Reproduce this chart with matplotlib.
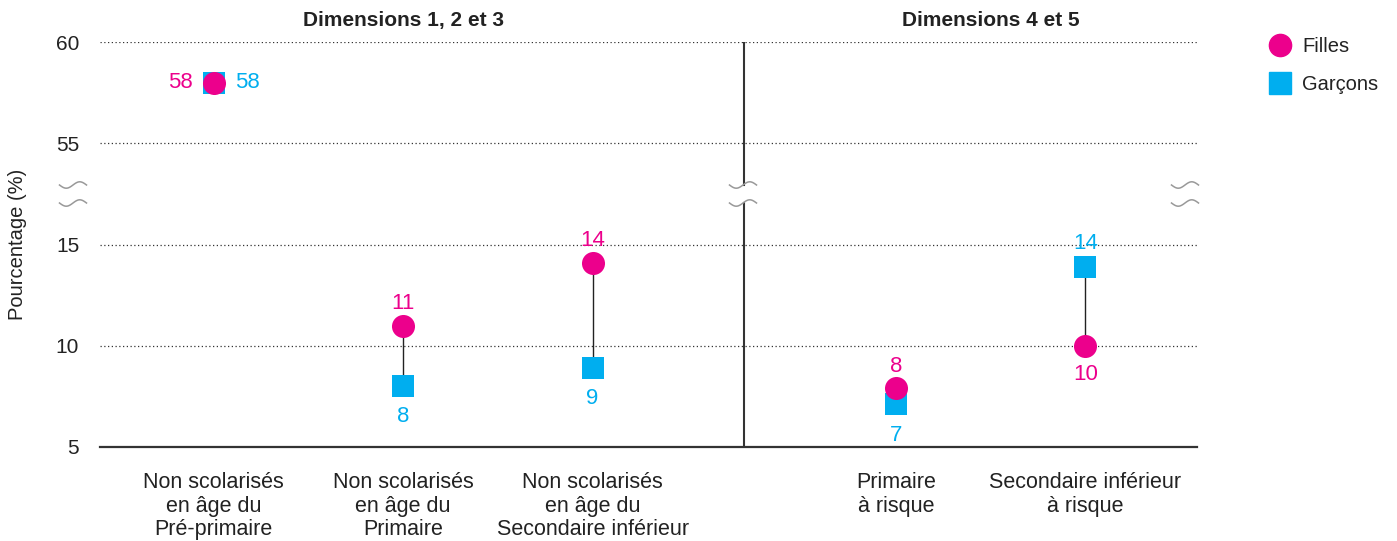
import numpy as np
import matplotlib
matplotlib.use('Agg')
import matplotlib.pyplot as plt
from matplotlib.lines import Line2D

plt.rcParams['font.family'] = ['Liberation Sans', 'DejaVu Sans']

# data
categories = ['Non scolarisés\nen âge du\nPré-primaire',
              'Non scolarisés\nen âge du\nPrimaire',
              'Non scolarisés\nen âge du\nSecondaire inférieur',
              'Primaire\nà risque',
              'Secondaire inférieur\nà risque']
filles = [58.0, 11.0, 14.1, 7.9, 10.0]
garcons = [58.0, 8.0, 8.9, 7.1, 13.9]
groups = ['Dimensions 1, 2 et 3', 'Dimensions 4 et 5']
yticks = [5, 10, 15, 55, 60]

pink = '#EC008C'
cyan = '#00AEEF'
txt = '#222222'

# broken axis: 15-55 squeezed into one tick interval
def fwd(v):
    v = np.asarray(v, dtype=float)
    return np.where(v <= 15, v, np.where(v >= 55, v - 35, 15 + (v - 15) / 8))

def inv(t):
    t = np.asarray(t, dtype=float)
    return np.where(t <= 15, t, np.where(t >= 20, t + 35, 15 + (t - 15) * 8))

x = np.array([0, 1, 2, 3.6, 4.6])
divider = 2.8

fig = plt.figure(figsize=(13.97, 5.41), dpi=100)
ax = fig.add_axes([100/1397, 1 - 447/541, 1097/1397, 405/541])
ax.set_yscale('function', functions=(fwd, inv))
ax.set_ylim(5, 60)
ax.set_xlim(-0.6, 5.19)

for s in ['top', 'right', 'left']:
    ax.spines[s].set_visible(False)
ax.spines['bottom'].set_color('#333333')
ax.spines['bottom'].set_linewidth(1.6)

ax.set_yticks(yticks)
ax.set_yticklabels([str(t) for t in yticks])
ax.yaxis.set_minor_locator(plt.NullLocator())
ax.tick_params(axis='y', length=0, pad=15, labelsize=15, colors=txt)
for t in yticks[1:]:
    ax.axhline(t, color='#333333', lw=0.9, ls=(0, (1, 2)), zorder=0)

ax.set_xticks(x)
ax.set_xticklabels(categories, fontsize=15.5, color=txt, linespacing=1.17)
ax.tick_params(axis='x', length=0, pad=18)
ax.set_ylabel('Pourcentage (%)', fontsize=14.5, color=txt)
ax.yaxis.set_label_coords(-73/1097, 0.5)

# divider between the two groups, broken at the axis break
ax.axvline(divider, ymin=0, ymax=0.602, color='#333333', lw=1.5)
ax.axvline(divider, ymin=0.648, ymax=1, color='#333333', lw=1.5)

# group titles
ax.text(np.mean(x[:3]), 1.053, groups[0], transform=ax.get_xaxis_transform(),
        ha='center', va='center', fontsize=15, fontweight='bold', color=txt)
ax.text(np.mean(x[3:]), 1.053, groups[1], transform=ax.get_xaxis_transform(),
        ha='center', va='center', fontsize=15, fontweight='bold', color=txt)

# connectors and markers
for xi, f, g in zip(x, filles, garcons):
    ax.plot([xi, xi], [f, g], color=txt, lw=1, zorder=2)
ax.scatter(x, garcons, marker='s', s=22**2 * 0.52, color=cyan, zorder=3, label='Garçons', linewidths=0)
ax.scatter(x, filles, marker='o', s=23**2 * 0.52, color=pink, zorder=4, label='Filles', linewidths=0)

# value labels
for xi, f, g in zip(x, filles, garcons):
    fl, gl = str(int(round(f))), str(int(round(g)))
    if fl == gl:
        ax.annotate(fl, (xi, f), xytext=(-24, 0), textcoords='offset points',
                    ha='center', va='center', color=pink, fontsize=16)
        ax.annotate(gl, (xi, g), xytext=(24, 0), textcoords='offset points',
                    ha='center', va='center', color=cyan, fontsize=16)
    else:
        up_f = f > g
        ax.annotate(fl, (xi, f), xytext=(0, 16 if up_f else -20.5), textcoords='offset points',
                    ha='center', va='center', color=pink, fontsize=16)
        ax.annotate(gl, (xi, g), xytext=(0, -22 if up_f else 17), textcoords='offset points',
                    ha='center', va='center', color=cyan, fontsize=16)

# break marks
def wave(cx, cy):
    w = 27 / 1397
    t = np.linspace(0, 1, 40)
    xs = cx + (t - 0.5) * w
    ys = cy + (3.2 / 541) * np.sin(2 * np.pi * t + np.pi)
    fig.add_artist(Line2D(xs, ys, color='#999999', lw=1.1, transform=fig.transFigure))

for px in [73, 743, 1185]:
    for py in [185, 203]:
        wave(px / 1397, 1 - py / 541)

# legend
handles = [Line2D([], [], marker='o', ls='', color=pink, markersize=16, label='Filles'),
           Line2D([], [], marker='s', ls='', color=cyan, markersize=16, label='Garçons')]
fig.legend(handles=handles, loc='upper left', bbox_to_anchor=(1250/1397, 1 - 19/541),
           frameon=False, fontsize=14.5, labelspacing=0.95, handletextpad=0.5,
           handlelength=1.2, labelcolor=txt)

fig.savefig('out.png', dpi=100)
